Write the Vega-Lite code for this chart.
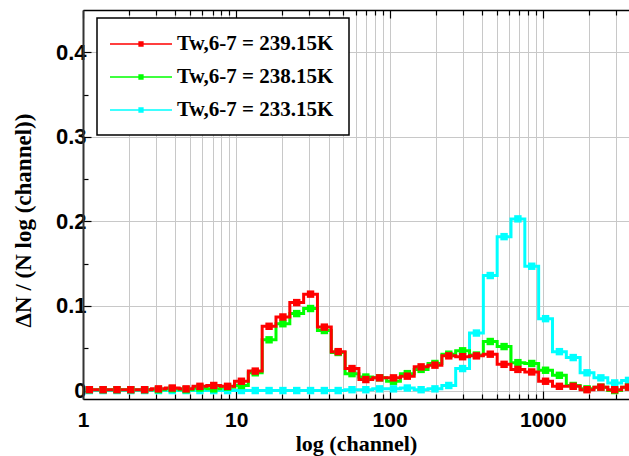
{
  "$schema": "https://vega.github.io/schema/vega-lite/v6.json",
  "width": 546,
  "height": 389,
  "autosize": {"type": "none"},
  "padding": {"left": 83, "top": 10, "right": 0, "bottom": 57},
  "background": "white",
  "config": {"view": {"stroke": null}},
  "data": {
    "values": [
      {"s":"233.15K","ch":1.100,"v":0.000},{"s":"233.15K","ch":1.353,"v":0.000},{"s":"233.15K","ch":1.666,"v":0.000},{"s":"233.15K","ch":2.050,"v":0.000},{"s":"233.15K","ch":2.524,"v":0.000},{"s":"233.15K","ch":3.106,"v":0.000},{"s":"233.15K","ch":3.823,"v":0.000},{"s":"233.15K","ch":4.706,"v":0.000},{"s":"233.15K","ch":5.793,"v":0.000},{"s":"233.15K","ch":7.130,"v":0.000},{"s":"233.15K","ch":8.777,"v":0.000},{"s":"233.15K","ch":10.80,"v":0.000},{"s":"233.15K","ch":13.30,"v":0.000},{"s":"233.15K","ch":16.37,"v":0.000},{"s":"233.15K","ch":20.15,"v":0.000},{"s":"233.15K","ch":24.80,"v":0.000},{"s":"233.15K","ch":30.52,"v":0.000},{"s":"233.15K","ch":37.56,"v":0.000},{"s":"233.15K","ch":46.23,"v":0.000},{"s":"233.15K","ch":56.90,"v":0.001},{"s":"233.15K","ch":70.03,"v":0.001},{"s":"233.15K","ch":86.19,"v":0.002},{"s":"233.15K","ch":106.1,"v":0.002},{"s":"233.15K","ch":130.6,"v":0.003},{"s":"233.15K","ch":160.7,"v":0.001},{"s":"233.15K","ch":197.8,"v":0.002},{"s":"233.15K","ch":243.5,"v":0.006},{"s":"233.15K","ch":299.7,"v":0.026},{"s":"233.15K","ch":368.9,"v":0.068},{"s":"233.15K","ch":454.0,"v":0.136},{"s":"233.15K","ch":558.8,"v":0.182},{"s":"233.15K","ch":687.8,"v":0.203},{"s":"233.15K","ch":846.6,"v":0.147},{"s":"233.15K","ch":1042,"v":0.085},{"s":"233.15K","ch":1283,"v":0.046},{"s":"233.15K","ch":1579,"v":0.039},{"s":"233.15K","ch":1943,"v":0.021},{"s":"233.15K","ch":2392,"v":0.015},{"s":"233.15K","ch":2944,"v":0.009},{"s":"233.15K","ch":3624,"v":0.012},
      {"s":"238.15K","ch":1.100,"v":0.001},{"s":"238.15K","ch":1.353,"v":0.001},{"s":"238.15K","ch":1.666,"v":0.001},{"s":"238.15K","ch":2.050,"v":0.001},{"s":"238.15K","ch":2.524,"v":0.001},{"s":"238.15K","ch":3.106,"v":0.001},{"s":"238.15K","ch":3.823,"v":0.002},{"s":"238.15K","ch":4.706,"v":0.001},{"s":"238.15K","ch":5.793,"v":0.003},{"s":"238.15K","ch":7.130,"v":0.002},{"s":"238.15K","ch":8.777,"v":0.004},{"s":"238.15K","ch":10.80,"v":0.006},{"s":"238.15K","ch":13.30,"v":0.021},{"s":"238.15K","ch":16.37,"v":0.060},{"s":"238.15K","ch":20.15,"v":0.079},{"s":"238.15K","ch":24.80,"v":0.091},{"s":"238.15K","ch":30.52,"v":0.097},{"s":"238.15K","ch":37.56,"v":0.071},{"s":"238.15K","ch":46.23,"v":0.045},{"s":"238.15K","ch":56.90,"v":0.020},{"s":"238.15K","ch":70.03,"v":0.016},{"s":"238.15K","ch":86.19,"v":0.015},{"s":"238.15K","ch":106.1,"v":0.011},{"s":"238.15K","ch":130.6,"v":0.020},{"s":"238.15K","ch":160.7,"v":0.025},{"s":"238.15K","ch":197.8,"v":0.032},{"s":"238.15K","ch":243.5,"v":0.043},{"s":"238.15K","ch":299.7,"v":0.047},{"s":"238.15K","ch":368.9,"v":0.042},{"s":"238.15K","ch":454.0,"v":0.058},{"s":"238.15K","ch":558.8,"v":0.052},{"s":"238.15K","ch":687.8,"v":0.033},{"s":"238.15K","ch":846.6,"v":0.032},{"s":"238.15K","ch":1042,"v":0.024},{"s":"238.15K","ch":1283,"v":0.018},{"s":"238.15K","ch":1579,"v":0.006},{"s":"238.15K","ch":1943,"v":0.002},{"s":"238.15K","ch":2392,"v":0.004},{"s":"238.15K","ch":2944,"v":0.000},{"s":"238.15K","ch":3624,"v":0.004},
      {"s":"239.15K","ch":1.100,"v":0.001},{"s":"239.15K","ch":1.353,"v":0.001},{"s":"239.15K","ch":1.666,"v":0.001},{"s":"239.15K","ch":2.050,"v":0.001},{"s":"239.15K","ch":2.524,"v":0.001},{"s":"239.15K","ch":3.106,"v":0.002},{"s":"239.15K","ch":3.823,"v":0.003},{"s":"239.15K","ch":4.706,"v":0.002},{"s":"239.15K","ch":5.793,"v":0.005},{"s":"239.15K","ch":7.130,"v":0.006},{"s":"239.15K","ch":8.777,"v":0.005},{"s":"239.15K","ch":10.80,"v":0.011},{"s":"239.15K","ch":13.30,"v":0.023},{"s":"239.15K","ch":16.37,"v":0.076},{"s":"239.15K","ch":20.15,"v":0.087},{"s":"239.15K","ch":24.80,"v":0.104},{"s":"239.15K","ch":30.52,"v":0.114},{"s":"239.15K","ch":37.56,"v":0.075},{"s":"239.15K","ch":46.23,"v":0.046},{"s":"239.15K","ch":56.90,"v":0.026},{"s":"239.15K","ch":70.03,"v":0.013},{"s":"239.15K","ch":86.19,"v":0.015},{"s":"239.15K","ch":106.1,"v":0.015},{"s":"239.15K","ch":130.6,"v":0.017},{"s":"239.15K","ch":160.7,"v":0.028},{"s":"239.15K","ch":197.8,"v":0.030},{"s":"239.15K","ch":243.5,"v":0.041},{"s":"239.15K","ch":299.7,"v":0.040},{"s":"239.15K","ch":368.9,"v":0.041},{"s":"239.15K","ch":454.0,"v":0.043},{"s":"239.15K","ch":558.8,"v":0.031},{"s":"239.15K","ch":687.8,"v":0.025},{"s":"239.15K","ch":846.6,"v":0.022},{"s":"239.15K","ch":1042,"v":0.011},{"s":"239.15K","ch":1283,"v":0.005},{"s":"239.15K","ch":1579,"v":0.005},{"s":"239.15K","ch":1943,"v":0.001},{"s":"239.15K","ch":2392,"v":0.004},{"s":"239.15K","ch":2944,"v":0.001},{"s":"239.15K","ch":3624,"v":0.004}
    ]
  },
  "encoding": {
    "y": {
      "field": "v", "type": "quantitative",
      "scale": {"domain": [-0.01, 0.45], "nice": false, "zero": false},
      "axis": {
        "title": "ΔN / (N log (channel))",
        "titleFont": "Liberation Serif", "titleFontWeight": "bold", "titleFontSize": 23, "titleColor": "#000",
        "titleAngle": -90, "titleX": -60, "titleY": 210, "titleAlign": "center", "titleBaseline": "middle",
        "values": [0, 0.05, 0.1, 0.15, 0.2, 0.25, 0.3, 0.35, 0.4],
        "labelExpr": "abs(datum.value*10 - round(datum.value*10)) < 0.000001 ? format(datum.value, '~g') : ''",
        "labelFont": "Liberation Sans", "labelFontWeight": "bold", "labelFontSize": 22, "labelColor": "#000",
        "labelPadding": 5,
        "grid": true, "gridColor": "#c8c8c8", "gridWidth": 1,
        "gridOpacity": {"condition": {"test": "abs(datum.value*10 - round(datum.value*10)) < 0.000001", "value": 1}, "value": 0},
        "tickColor": "#000", "tickWidth": 1.2,
        "tickSize": {"condition": {"test": "abs(datum.value*10 - round(datum.value*10)) < 0.000001", "value": -8}, "value": -5},
        "domainColor": "#333", "domainWidth": 2
      }
    },
    "color": {
      "field": "s", "type": "nominal",
      "scale": {"domain": ["239.15K", "238.15K", "233.15K"], "range": ["#ff0000", "#00ff00", "#00ffff"]},
      "legend": {
        "orient": "none", "legendX": 14, "legendY": 8, "title": null,
        "padding": 15, "strokeColor": "#000", "fillColor": "#fff", "cornerRadius": 0,
        "symbolType": "M-2.82,-0.075H2.82V0.075H-2.82Z M-0.24,-0.24H0.24V0.24H-0.24Z",
        "symbolSize": 484, "symbolStrokeWidth": 0, "symbolOffset": 18,
        "labelOffset": 25, "rowPadding": 12, "labelLimit": 0,
        "labelFont": "Liberation Serif", "labelFontWeight": "bold", "labelFontSize": 21, "labelColor": "#000",
        "labelExpr": "'Tw,6-7 = ' + datum.label",
        "encode": {
          "legend": {"update": {"strokeWidth": {"value": 1.5}}},
          "symbols": {"update": {"fill": {"scale": "color", "field": "value"}, "stroke": {"value": "transparent"}, "opacity": {"value": 1}}}
        }
      }
    }
  },
  "layer": [
    {
      "mark": {"type": "line", "interpolate": "step", "strokeWidth": 3},
      "encoding": {
        "x": {
          "field": "ch", "type": "quantitative",
          "scale": {"type": "log", "domain": [1, 3650], "nice": false},
          "axis": {
            "orient": "bottom",
            "title": "log (channel)",
            "titleFont": "Liberation Serif", "titleFontWeight": "bold", "titleFontSize": 22, "titleColor": "#000",
            "titleBaseline": "alphabetic", "titleY": 51,
            "values": [1,2,3,4,5,6,7,8,9,10,20,30,40,50,60,70,80,90,100,200,300,400,500,600,700,800,900,1000,2000,3000],
            "labelExpr": "datum.value == 1 || datum.value == 10 || datum.value == 100 || datum.value == 1000 ? format(datum.value, 'd') : ''",
            "labelFont": "Liberation Sans", "labelFontWeight": "bold", "labelFontSize": 21, "labelColor": "#000",
            "labelPadding": 18, "labelFlush": false, "labelOverlap": false,
            "grid": true, "gridColor": "#c8c8c8", "gridWidth": 1,
            "tickColor": "#000", "tickWidth": 1.2,
            "tickSize": {"condition": {"test": "datum.value == 1 || datum.value == 10 || datum.value == 100 || datum.value == 1000", "value": -8}, "value": -5},
            "domainColor": "#000", "domainWidth": 1.5
          }
        }
      }
    },
    {
      "mark": {"type": "point", "shape": "square", "filled": true, "size": 55, "opacity": 1},
      "encoding": {
        "x": {
          "field": "ch", "type": "quantitative",
          "scale": {"type": "log", "domain": [1, 3650], "nice": false},
          "axis": {
            "orient": "top", "title": null, "labels": false, "grid": false,
            "values": [1,2,3,4,5,6,7,8,9,10,20,30,40,50,60,70,80,90,100,200,300,400,500,600,700,800,900,1000,2000,3000],
            "tickColor": "#000", "tickWidth": 1.2,
            "tickSize": {"condition": {"test": "datum.value == 1 || datum.value == 10 || datum.value == 100 || datum.value == 1000", "value": -8}, "value": -5},
            "domainColor": "#000", "domainWidth": 1.5
          }
        }
      }
    }
  ],
  "resolve": {"axis": {"x": "independent"}}
}
